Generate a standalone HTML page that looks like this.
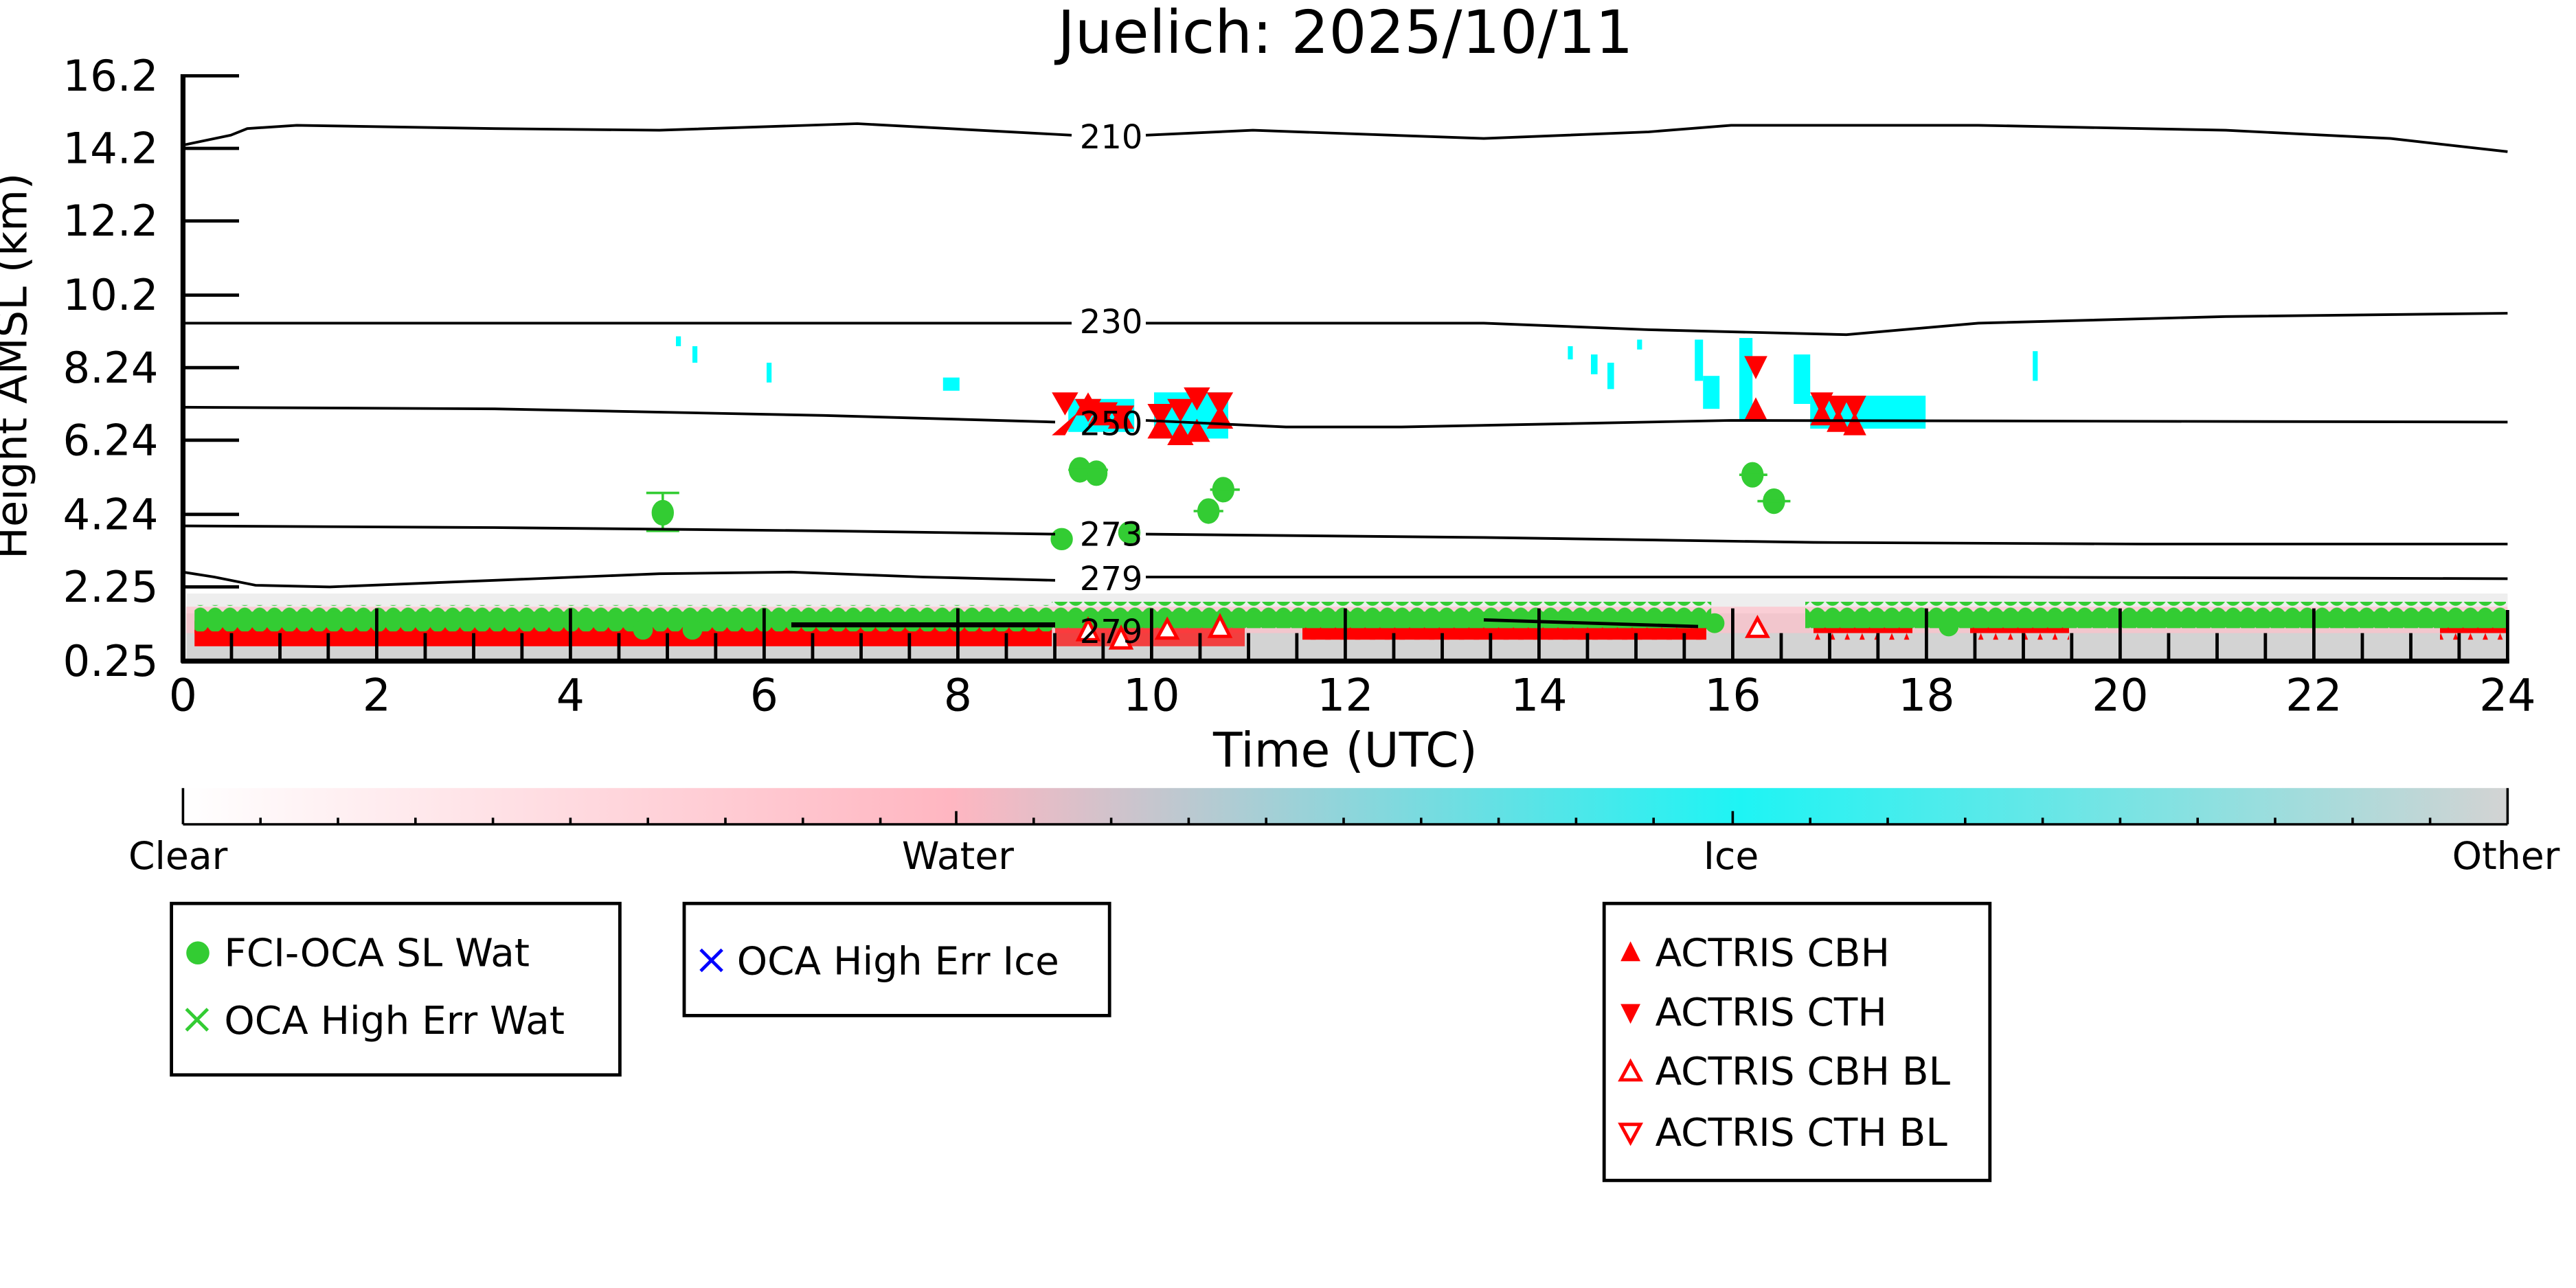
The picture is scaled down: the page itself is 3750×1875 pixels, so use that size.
<!DOCTYPE html>
<html><head><meta charset="utf-8"><style>
html,body{margin:0;padding:0;background:#fff;width:3750px;height:1875px;overflow:hidden}
svg{display:block}
text{font-family:"DejaVu Sans","Liberation Sans",sans-serif;fill:#000}
</style></head><body>
<svg width="3750" height="1875" viewBox="0 0 1562.5 781.25" xmlns="http://www.w3.org/2000/svg">
<defs>
<linearGradient id="cb" x1="0" x2="1">
<stop offset="0" stop-color="#ffffff"/>
<stop offset="0.33" stop-color="#ffb6c1"/>
<stop offset="0.67" stop-color="#1ef4f4"/>
<stop offset="1" stop-color="#d3d3d3"/>
</linearGradient>
<pattern id="gc" width="9" height="16" patternUnits="userSpaceOnUse">
<ellipse cx="4.5" cy="8" rx="5.5" ry="7.5" fill="#33cc33"/>
</pattern>
<pattern id="rt" width="9" height="16" patternUnits="userSpaceOnUse">
<polygon points="4.5,0 11,16 -2,16" fill="#ff0000"/>
</pattern>
</defs>
<rect width="1562.5" height="781.25" fill="#fff"/>
<text x="816" y="32" font-size="36" text-anchor="middle">Juelich: 2025/10/11</text>

<rect x="113" y="360" width="1408" height="12" fill="#eeeeee"/>
<rect x="113" y="372" width="1408" height="29" fill="#d3d3d3"/>
<rect x="113" y="368" width="1408" height="16" fill="#ffc0cb" opacity="0.7"/>
<!-- red triangles row -->
<rect x="118" y="374" width="520" height="16" fill="url(#rt)"/>
<rect x="118" y="382" width="520" height="10" fill="#ff0000"/>
<rect x="640" y="374" width="115" height="18" fill="#ff0000" opacity="0.7"/>
<rect x="790" y="372" width="245" height="16" fill="url(#rt)"/>
<rect x="790" y="380" width="245" height="8" fill="#ff0000"/>
<rect x="1100" y="374" width="60" height="14" fill="url(#rt)"/>
<rect x="1195" y="374" width="60" height="14" fill="url(#rt)"/>
<rect x="1480" y="374" width="40" height="14" fill="url(#rt)"/>
<!-- green circle row -->
<rect x="118" y="367" width="520" height="16" fill="url(#gc)"/>
<rect x="638" y="365" width="400" height="16" fill="url(#gc)"/>
<rect x="1095" y="365" width="425" height="16" fill="url(#gc)"/>
<rect x="122" y="371" width="910" height="9" fill="#33cc33"/>
<rect x="1098" y="371" width="420" height="9" fill="#33cc33"/>
<circle cx="1182" cy="380" r="6" fill="#33cc33"/>
<circle cx="1040" cy="378" r="6" fill="#33cc33"/>
<circle cx="390" cy="382" r="6" fill="#33cc33"/>
<circle cx="420" cy="382" r="6" fill="#33cc33"/>
<g fill="#fff" stroke="#ff0000" stroke-width="2">
<polygon points="660,376 666,388 654,388"/><polygon points="680,381 686,393 674,393"/>
<polygon points="708,376 714,387 702,387"/><polygon points="740,374 746,386 734,386"/>
<polygon points="1066,375 1072,386 1060,386"/>
</g>

<g fill="#00ffff">
<rect x="410" y="204" width="3" height="6"/><rect x="420" y="210" width="3" height="10"/>
<rect x="465" y="220" width="3" height="12"/><rect x="572" y="229" width="10" height="8"/>
<rect x="700" y="238" width="45" height="28"/><rect x="648" y="242" width="40" height="20"/>
<rect x="951" y="210" width="3" height="8"/><rect x="965" y="215" width="4" height="12"/>
<rect x="975" y="220" width="4" height="16"/><rect x="993" y="206" width="3" height="6"/>
<rect x="1028" y="206" width="5" height="25"/><rect x="1033" y="228" width="10" height="20"/>
<rect x="1055" y="205" width="8" height="50"/><rect x="1088" y="215" width="10" height="30"/>
<rect x="1098" y="240" width="70" height="20"/><rect x="1233" y="213" width="3" height="18"/>
</g>
<g fill="#ff0000">
<polygon points="638,238 654,238 646,252"/><polygon points="652,242 668,242 660,256"/><polygon points="662,244 678,244 670,258"/><polygon points="672,246 688,246 680,260"/>
<polygon points="646,264 654,250 638,264"/>
<polygon points="652,252 660,238 668,252"/><polygon points="660,258 668,244 676,258"/><polygon points="672,260 680,246 688,260"/>
<polygon points="696,245 712,245 704,259"/><polygon points="708,242 724,242 716,256"/><polygon points="718,235 734,235 726,249"/><polygon points="732,238 748,238 740,252"/>
<polygon points="696,266 704,252 712,266"/><polygon points="708,270 716,256 724,270"/><polygon points="718,268 726,254 734,268"/><polygon points="732,260 740,246 748,260"/>
<polygon points="1058,216 1072,216 1065,230"/><polygon points="1058,255 1065,241 1072,255"/>
<polygon points="1098,238 1112,238 1105,252"/><polygon points="1108,240 1122,240 1115,254"/><polygon points="1118,240 1132,240 1125,254"/>
<polygon points="1098,258 1105,244 1112,258"/><polygon points="1108,262 1115,248 1122,262"/><polygon points="1118,264 1125,250 1132,264"/>
</g>

<g fill="#33cc33" stroke="#33cc33" stroke-width="1.5">
<line x1="392" y1="299" x2="412" y2="299"/><line x1="392" y1="322" x2="412" y2="322"/><line x1="402" y1="299" x2="402" y2="322"/>
<ellipse cx="402" cy="311" rx="6" ry="7"/>
<ellipse cx="655" cy="285" rx="6" ry="7"/><ellipse cx="665" cy="287" rx="6" ry="7"/>
<ellipse cx="644" cy="327" rx="6" ry="6"/><ellipse cx="685" cy="323" rx="6" ry="6"/>
<ellipse cx="742" cy="297" rx="6" ry="7"/><ellipse cx="733" cy="310" rx="6" ry="7"/>
<ellipse cx="1063" cy="288" rx="6" ry="7"/><ellipse cx="1076" cy="304" rx="6" ry="7"/>
<line x1="648" y1="285" x2="672" y2="285"/><line x1="734" y1="297" x2="752" y2="297"/><line x1="724" y1="310" x2="742" y2="310"/>
<line x1="1055" y1="288" x2="1072" y2="288"/><line x1="1066" y1="304" x2="1086" y2="304"/>
</g>

<g fill="none" stroke="#000" stroke-width="1.6">
<path d="M111,88 L140,82 L150,78 L180,76 L300,78 L400,79 L520,75 L650,82 M695,82 L760,79 L900,84 L1000,80 L1050,76 L1200,76 L1350,79 L1450,84 L1521,92"/>
<path d="M111,196 L650,196 M695,196 L900,196 L1000,200 L1120,203 L1200,196 L1350,192 L1521,190"/>
<path d="M111,247 L300,248 L500,252 L640,256 M695,255 L780,259 L850,259 L950,257 L1050,255 L1521,256"/>
<path d="M111,319 L300,320 L500,322 L640,324 M695,324 L900,326 L1100,329 L1300,330 L1521,330"/>
<path d="M111,347 L130,350 L155,355 L200,356 L300,352 L400,348 L480,347 L560,350 L640,352 M695,350 L800,350 L1000,350 L1200,350 L1521,351"/>
<path d="M480,379 L640,379" stroke-width="3"/>
<path d="M900,376 L1030,380" stroke-width="2"/>
</g>
<g font-size="20" text-anchor="middle">
<text x="674" y="90">210</text><text x="674" y="202">230</text><text x="674" y="264">250</text>
<text x="674" y="331">273</text><text x="674" y="358">279</text><text x="674" y="390">279</text>
</g>

<g stroke="#000">
<line x1="111" y1="45" x2="111" y2="402" stroke-width="3"/>
<line x1="110" y1="401" x2="1522" y2="401" stroke-width="3"/>
<line x1="1521" y1="370" x2="1521" y2="402" stroke-width="2"/>
<g stroke-width="2">
<line x1="111" y1="46" x2="145" y2="46"/><line x1="111" y1="90" x2="145" y2="90"/>
<line x1="111" y1="134" x2="145" y2="134"/><line x1="111" y1="179" x2="145" y2="179"/>
<line x1="111" y1="223" x2="145" y2="223"/><line x1="111" y1="267" x2="145" y2="267"/>
<line x1="111" y1="312" x2="145" y2="312"/><line x1="111" y1="356" x2="145" y2="356"/>
</g>
<path stroke-width="2" d="M140.4,401v-17M169.8,401v-17M199.1,401v-17M228.5,401v-32M257.9,401v-17M287.3,401v-17M316.6,401v-17M346,401v-32M375.4,401v-17M404.8,401v-17M434.1,401v-17M463.5,401v-32M492.9,401v-17M522.3,401v-17M551.6,401v-17M581,401v-32M610.4,401v-17M639.8,401v-17M669.1,401v-17M698.5,401v-32M727.9,401v-17M757.3,401v-17M786.6,401v-17M816,401v-32M845.4,401v-17M874.8,401v-17M904.1,401v-17M933.5,401v-32M962.9,401v-17M992.3,401v-17M1021.6,401v-17M1051,401v-32M1080.4,401v-17M1109.8,401v-17M1139.1,401v-17M1168.5,401v-32M1197.9,401v-17M1227.3,401v-17M1256.6,401v-17M1286,401v-32M1315.4,401v-17M1344.8,401v-17M1374.1,401v-17M1403.5,401v-32M1432.9,401v-17M1462.3,401v-17M1491.6,401v-17"/>
</g>
<g font-size="26" text-anchor="end">
<text x="96" y="55">16.2</text><text x="96" y="99">14.2</text><text x="96" y="143">12.2</text>
<text x="96" y="188">10.2</text><text x="96" y="232">8.24</text><text x="96" y="276">6.24</text>
<text x="96" y="321">4.24</text><text x="96" y="365">2.25</text><text x="96" y="410">0.25</text>
</g>
<text transform="translate(16,222) rotate(-90)" font-size="26" text-anchor="middle">Height AMSL (km)</text>
<g font-size="27" text-anchor="middle">
<text x="111" y="431">0</text><text x="228.5" y="431">2</text><text x="346" y="431">4</text><text x="463.5" y="431">6</text>
<text x="581" y="431">8</text><text x="698.5" y="431">10</text><text x="816" y="431">12</text><text x="933.5" y="431">14</text>
<text x="1051" y="431">16</text><text x="1168.5" y="431">18</text><text x="1286" y="431">20</text><text x="1403.5" y="431">22</text>
<text x="1521" y="431">24</text>
</g>
<text x="816" y="465" font-size="29" text-anchor="middle">Time (UTC)</text>

<rect x="111" y="478" width="1410" height="22" fill="url(#cb)"/>
<line x1="111" y1="500" x2="1521" y2="500" stroke="#000" stroke-width="1.5"/>
<path stroke="#000" stroke-width="1.5" d="M111,478v22M1521,478v22M580,492v8M1051,492v8M158,496v4M205,496v4M252,496v4M299,496v4M346,496v4M393,496v4M440,496v4M487,496v4M534,496v4M627,496v4M674,496v4M721,496v4M768,496v4M815,496v4M862,496v4M909,496v4M956,496v4M1003,496v4M1098,496v4M1145,496v4M1192,496v4M1239,496v4M1286,496v4M1333,496v4M1380,496v4M1427,496v4M1474,496v4"/>
<g font-size="23" text-anchor="middle">
<text x="108" y="527">Clear</text><text x="581" y="527">Water</text><text x="1050" y="527">Ice</text><text x="1520" y="527">Other</text>
</g>

<g fill="none" stroke="#000" stroke-width="2">
<rect x="104" y="548" width="272" height="104"/>
<rect x="415" y="548" width="258" height="68"/>
<rect x="973" y="548" width="234" height="168"/>
</g>
<circle cx="120" cy="578" r="7" fill="#33cc33"/>
<path d="M113,612l13,13M126,612l-13,13" stroke="#33cc33" stroke-width="2"/>
<path d="M425,576l13,13M438,576l-13,13" stroke="#0000ff" stroke-width="2"/>
<polygon points="989,571 995,583 983,583" fill="#ff0000"/>
<polygon points="983,609 995,609 989,621" fill="#ff0000"/>
<polygon points="989,644 995,655 983,655" fill="#fff" stroke="#ff0000" stroke-width="2"/>
<polygon points="983,682 995,682 989,693" fill="#fff" stroke="#ff0000" stroke-width="2"/>
<g font-size="23.5">
<text x="136" y="586">FCI-OCA SL Wat</text><text x="136" y="627">OCA High Err Wat</text>
<text x="447" y="591">OCA High Err Ice</text>
<text x="1004" y="586">ACTRIS CBH</text><text x="1004" y="622">ACTRIS CTH</text>
<text x="1004" y="658">ACTRIS CBH BL</text><text x="1004" y="695">ACTRIS CTH BL</text>
</g>
</svg>
</body></html>
